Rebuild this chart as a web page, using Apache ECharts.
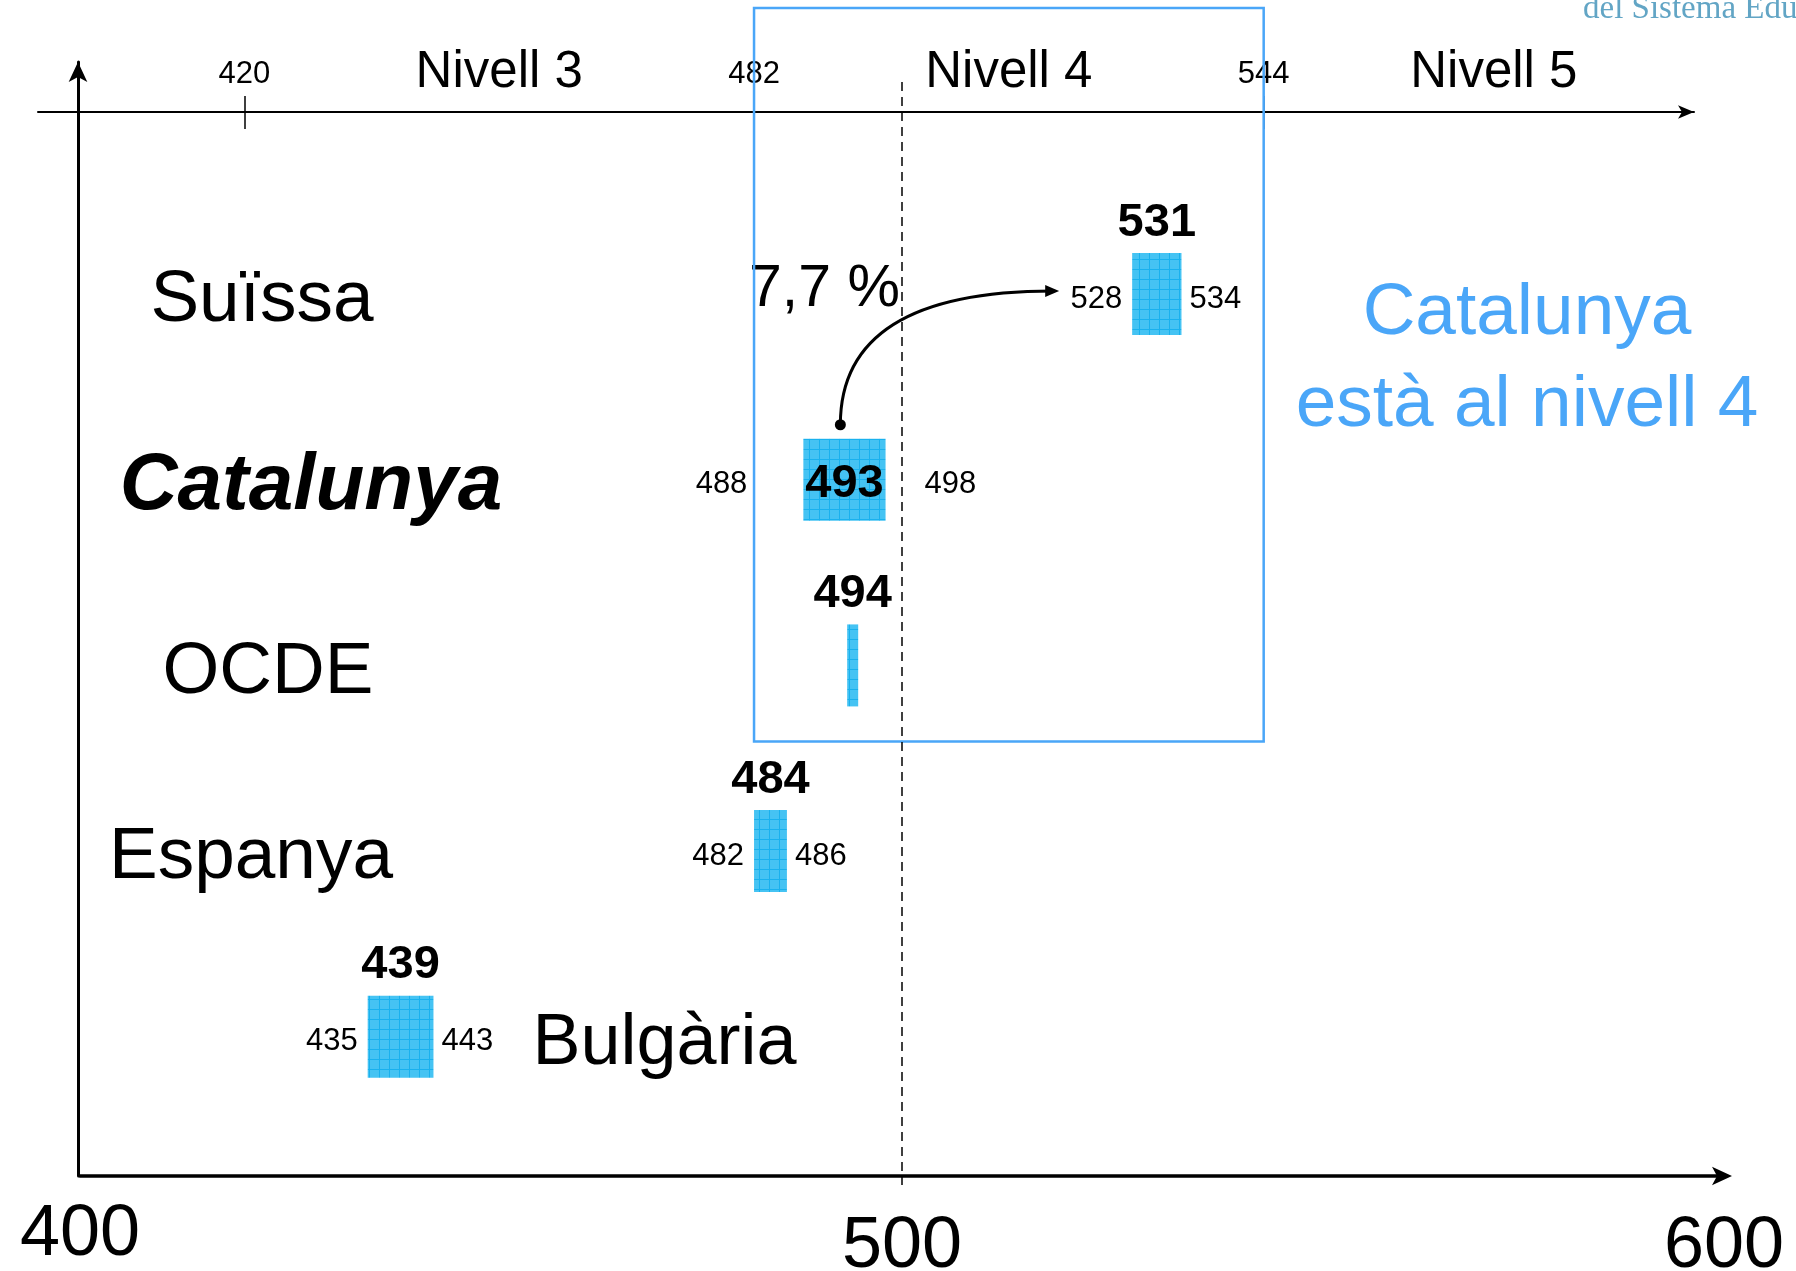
<!DOCTYPE html>
<html>
<head>
<meta charset="utf-8">
<script src="https://cdn.jsdelivr.net/npm/echarts@6/dist/echarts.min.js"></script>
<style>
  html, body { margin: 0; padding: 0; background: #fff; }
  #chart { width: 1796px; height: 1271px; }
</style>
</head>
<body>
<div id="chart"></div>
<script>
// mitjana i interval de confiança, de dalt a baix
const countries = ['Suïssa', 'Catalunya', 'OCDE', 'Espanya', 'Bulgària']
const means = [531, 493, 494, 484, 439]
const lows = [528, 488, null, 482, 435]
const highs = [534, 498, null, 486, 443]

const scoreTicks = [400, 500, 600]
const levelCuts = [420, 482, 544]
const levelNames = ['Nivell 3', 'Nivell 4', 'Nivell 5']
const levelEnds = [482, 544, 600]
const highlight = [482, 544] // caixa del nivell 4
const shareText = '7,7 %'
const noteLines = ['Catalunya', 'està al nivell 4']

const FONT = '"Liberation Sans", Arial, sans-serif'
const LEFT = 80, RIGHT = 72
const PX = (1796 - LEFT - RIGHT) / (scoreTicks[2] - scoreTicks[0])
const BAR_H = 82
const THIN = 11
const BLUE = '#4aa6f8'

// posicions dels noms (retocades a ull)
const rowStyle = {
  'Suïssa': { x: 262 },
  'Catalunya': { x: 311, font: 'italic bold 80px ' + FONT, meanInside: true, gapL: 56, gapR: 39 },
  'OCDE': { x: 268 },
  'Espanya': { x: 251 },
  'Bulgària': { afterBar: 99 }
}

const levelMids = levelCuts.map((c, i) => (c + levelEnds[i]) / 2)

function cellPattern() {
  const c = document.createElement('canvas')
  c.width = 10; c.height = 10
  const g = c.getContext('2d')
  g.fillStyle = '#45c3f3'
  g.fillRect(0, 0, 10, 10)
  g.fillStyle = '#19b1ee'
  g.fillRect(9, 0, 1, 10)
  g.fillRect(0, 9, 10, 1)
  return c
}
const pattern = cellPattern()

function txt(x, y, text, font, align, valign, fill) {
  return {
    type: 'text', x: x, y: y,
    style: { text: text, font: font, align: align, verticalAlign: valign, fill: fill || '#000' }
  }
}

function renderRow(params, api) {
  const i = params.dataIndex
  const row = api.value(1)
  const p = api.coord([api.value(0), row])
  const cx = p[0], cy = p[1]
  const lo = lows[i], hi = highs[i]
  const x0 = lo == null ? cx - THIN / 2 : api.coord([lo, row])[0]
  const x1 = hi == null ? cx + THIN / 2 : api.coord([hi, row])[0]
  const top = cy - BAR_H / 2
  const st = rowStyle[countries[i]] || {}
  const kids = [{
    type: 'rect',
    shape: { x: x0, y: top, width: x1 - x0, height: BAR_H },
    style: { fill: { image: pattern, repeat: 'repeat' } }
  }]
  kids.push(st.meanInside
    ? txt((x0 + x1) / 2, cy + 4, String(means[i]), 'bold 47px ' + FONT, 'center', 'middle')
    : txt((x0 + x1) / 2, top - 7, String(means[i]), 'bold 47px ' + FONT, 'center', 'bottom'))
  if (lo != null) kids.push(txt(x0 - (st.gapL || 10), cy + 5, String(lo), '31px ' + FONT, 'right', 'middle'))
  if (hi != null) kids.push(txt(x1 + (st.gapR || 8), cy + 5, String(hi), '31px ' + FONT, 'left', 'middle'))
  if (st.afterBar) {
    kids.push(txt(x1 + st.afterBar, cy + 7, countries[i], '72px ' + FONT, 'left', 'middle'))
  } else {
    kids.push(txt(st.x, cy + 7, countries[i], st.font || '73px ' + FONT, 'center', 'middle'))
  }
  return { type: 'group', children: kids }
}

// caixa del nivell 4, línia de 500 i fletxa Catalunya -> Suïssa
function renderNotes(params, api) {
  const n = countries.length
  const bx0 = api.coord([highlight[0], 1])[0]
  const bx1 = api.coord([highlight[1], 1])[0]
  const ocdeY = api.coord([0, n - 2])[1]
  const x500 = api.coord([500, 1])[0]

  const ci = countries.indexOf('Catalunya')
  const si = countries.indexOf('Suïssa')
  const cat = api.coord([lows[ci], n - ci])
  const sui = api.coord([lows[si], n - si])
  const sx = cat[0] + 37, sy = cat[1] - BAR_H / 2 - 14
  const ex = sui[0] - 73, ey = sui[1] - 3

  return {
    type: 'group',
    children: [
      { type: 'rect', shape: { x: bx0, y: 8, width: bx1 - bx0, height: ocdeY + 76 - 8 },
        style: { fill: 'none', stroke: BLUE, lineWidth: 2.5 } },
      { type: 'line', shape: { x1: x500, y1: 82, x2: x500, y2: 1185 },
        style: { stroke: '#000', lineWidth: 1.5, lineDash: [9, 6] } },
      { type: 'bezierCurve', shape: { x1: sx, y1: sy, x2: ex - 6, y2: ey, cpx1: sx, cpy1: ey },
        style: { fill: 'none', stroke: '#000', lineWidth: 3 } },
      { type: 'polygon', shape: { points: [[ex, ey], [ex - 14, ey - 6], [ex - 14, ey + 6]] },
        style: { fill: '#000' } },
      { type: 'circle', shape: { cx: sx, cy: sy, r: 5.5 }, style: { fill: '#000' } }
    ]
  }
}

const chart = echarts.init(document.getElementById('chart'))

const topMin = scoreTicks[0] - (LEFT - 38) / PX
const topMax = scoreTicks[2] - (1796 - RIGHT - 1694) / PX

chart.setOption({
  animation: false,
  backgroundColor: '#fff',
  grid: [
    { left: LEFT, right: RIGHT, top: 62, bottom: 95, outerBoundsMode: 'none' },
    { left: 38, right: 1796 - 1694, top: 112, height: 1, outerBoundsMode: 'none' }
  ],
  xAxis: [
    {
      gridIndex: 0, type: 'value', min: 400, max: 600, interval: 100,
      axisLine: { show: true, onZero: false, symbol: ['none', 'arrow'], symbolSize: [14, 20], symbolOffset: [0, 8],
        lineStyle: { color: '#000', width: 3.5 } },
      axisTick: { show: false },
      splitLine: { show: false },
      axisLabel: {
        margin: 23, color: '#000', fontFamily: FONT, fontSize: 72,
        formatter: v => v === scoreTicks[0] ? '{hi|' + v + '}' : '{lo|' + v + '}',
        rich: {
          hi: { fontSize: 72, fontFamily: FONT, color: '#000' },
          lo: { fontSize: 72, fontFamily: FONT, color: '#000', padding: [12, 0, 0, 0] }
        }
      }
    },
    {
      gridIndex: 1, type: 'value', position: 'top', min: topMin, max: topMax,
      axisLine: { show: true, onZero: false, symbol: ['none', 'arrow'], symbolSize: [10, 16],
        lineStyle: { color: '#000', width: 2 } },
      axisTick: { show: true, customValues: levelCuts, length: 16, lineStyle: { color: '#000', width: 1.5 } },
      splitLine: { show: false },
      axisLabel: { customValues: levelCuts, margin: 22, color: '#000', fontFamily: FONT, fontSize: 31 }
    },
    {
      gridIndex: 1, type: 'value', position: 'bottom', min: topMin, max: topMax,
      axisLine: { show: false },
      axisTick: { show: true, customValues: levelCuts, length: 16, lineStyle: { color: '#000', width: 1.5 } },
      splitLine: { show: false },
      axisLabel: { show: false }
    },
    {
      gridIndex: 1, type: 'value', position: 'top', min: topMin, max: topMax,
      axisLine: { show: false },
      axisTick: { show: false },
      splitLine: { show: false },
      axisLabel: {
        customValues: levelMids, margin: 14, color: '#000', fontFamily: FONT, fontSize: 51,
        formatter: v => levelNames[levelMids.indexOf(v)] || ''
      }
    }
  ],
  yAxis: [
    {
      gridIndex: 0, type: 'value', min: 0.25, max: 6.25, offset: 2,
      axisLine: { show: true, onZero: false, symbol: ['none', 'arrow'], symbolSize: [14, 20],
        lineStyle: { color: '#000', width: 3 } },
      axisTick: { show: false },
      axisLabel: { show: false },
      splitLine: { show: false }
    },
    { gridIndex: 1, type: 'value', min: 0, max: 1, show: false }
  ],
  series: [
    {
      type: 'custom',
      name: 'puntuació',
      xAxisIndex: 0, yAxisIndex: 0,
      clip: false,
      renderItem: renderRow,
      encode: { x: 0, y: 1 },
      data: countries.map((c, i) => [means[i], countries.length - i])
    },
    {
      type: 'custom',
      name: 'notes',
      xAxisIndex: 0, yAxisIndex: 0,
      clip: false,
      silent: true,
      renderItem: renderNotes,
      data: [[highlight[0], 1]]
    }
  ],
  graphic: [
    { type: 'text', x: 749, y: 290,
      style: { text: shareText, font: '59px ' + FONT, fill: '#000', align: 'left', verticalAlign: 'middle' } },
    { type: 'text', x: 1527, y: 360,
      style: { text: noteLines.join('\n'), font: '73px ' + FONT, lineHeight: 92, fill: BLUE,
        align: 'center', verticalAlign: 'middle' } },
    { type: 'text', x: 1583, y: 26,
      style: { text: 'del Sistema Educatiu', font: '33px "Liberation Serif", serif', fill: '#62a5c5',
        align: 'left', verticalAlign: 'bottom' } }
  ]
})
</script>
</body>
</html>
